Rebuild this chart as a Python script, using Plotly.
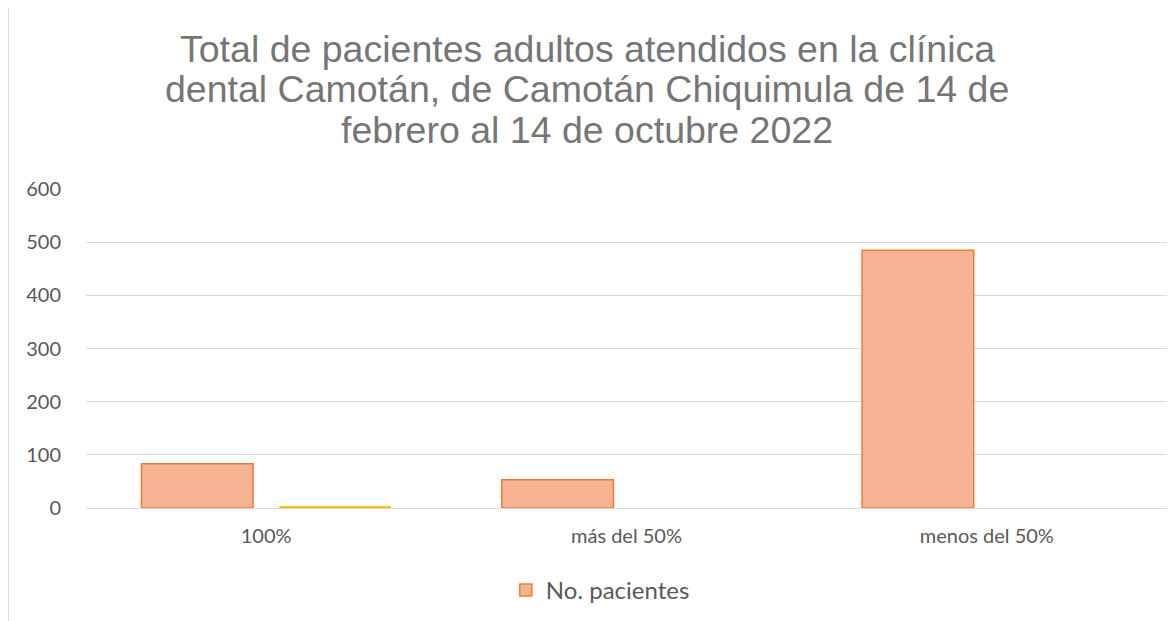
import plotly.graph_objects as go

categories = ["100%", "más del 50%", "menos del 50%"]
pacientes = [83, 53, 485]
serie2 = [3, 0, 0]
y_ticks = [0, 100, 200, 300, 400, 500, 600]
title_lines = [
    "Total de pacientes adultos atendidos en la clínica",
    "dental Camotán, de Camotán Chiquimula de 14 de",
    "febrero al 14 de octubre 2022",
]

gray = "#595959"

fig = go.Figure()
fig.add_trace(go.Bar(
    x=categories, y=pacientes, name="No. pacientes",
    marker=dict(color="#F6B394", line=dict(color="#ED7D31", width=1.5)),
))
fig.add_trace(go.Bar(
    x=categories, y=serie2, name="Serie 2", showlegend=False,
    marker=dict(color="#FFC000", line=dict(width=0)),
))

# page body has an 8px offset, so the figure is sized to fit inside the window
fig.update_layout(
    width=1167, height=613,
    margin=dict(l=78, r=8, t=181, b=109),
    paper_bgcolor="white", plot_bgcolor="white",
    barmode="group", bargap=0.235, bargroupgap=0.19,
    font=dict(family="Lato, Calibri, sans-serif", size=20, color=gray),
    showlegend=True,
    legend=dict(orientation="h", x=0.4758, xanchor="center", y=-0.258, yanchor="middle",
                font=dict(size=24, color=gray), itemwidth=30),
    xaxis=dict(showline=False, ticks="", showgrid=False, ticklabelstandoff=14,
               tickfont=dict(size=20, color=gray)),
    yaxis=dict(range=[0, 600], tickvals=y_ticks, showgrid=True, gridcolor="#D9D9D9",
               gridwidth=1, zeroline=True, zerolinecolor="#D9D9D9", zerolinewidth=1,
               ticks="", ticklabelstandoff=24, tickfont=dict(size=20, color=gray)),
    shapes=[dict(type="rect", xref="paper", yref="paper",
                 x0=-0.0718, x1=1.05, y0=-0.6, y1=1.574,
                 line=dict(color="#D9D9D9", width=1), fillcolor="rgba(0,0,0,0)",
                 layer="below")],
)

for i, line in enumerate(title_lines):
    fig.add_annotation(
        text=line, xref="paper", yref="paper", x=0.4635, y=1.44 - i * 0.128,
        xanchor="center", yanchor="middle", showarrow=False,
        font=dict(family="Liberation Sans, Arial", size=37.5, color="#767676"),
    )

fig.write_html("out.html")
